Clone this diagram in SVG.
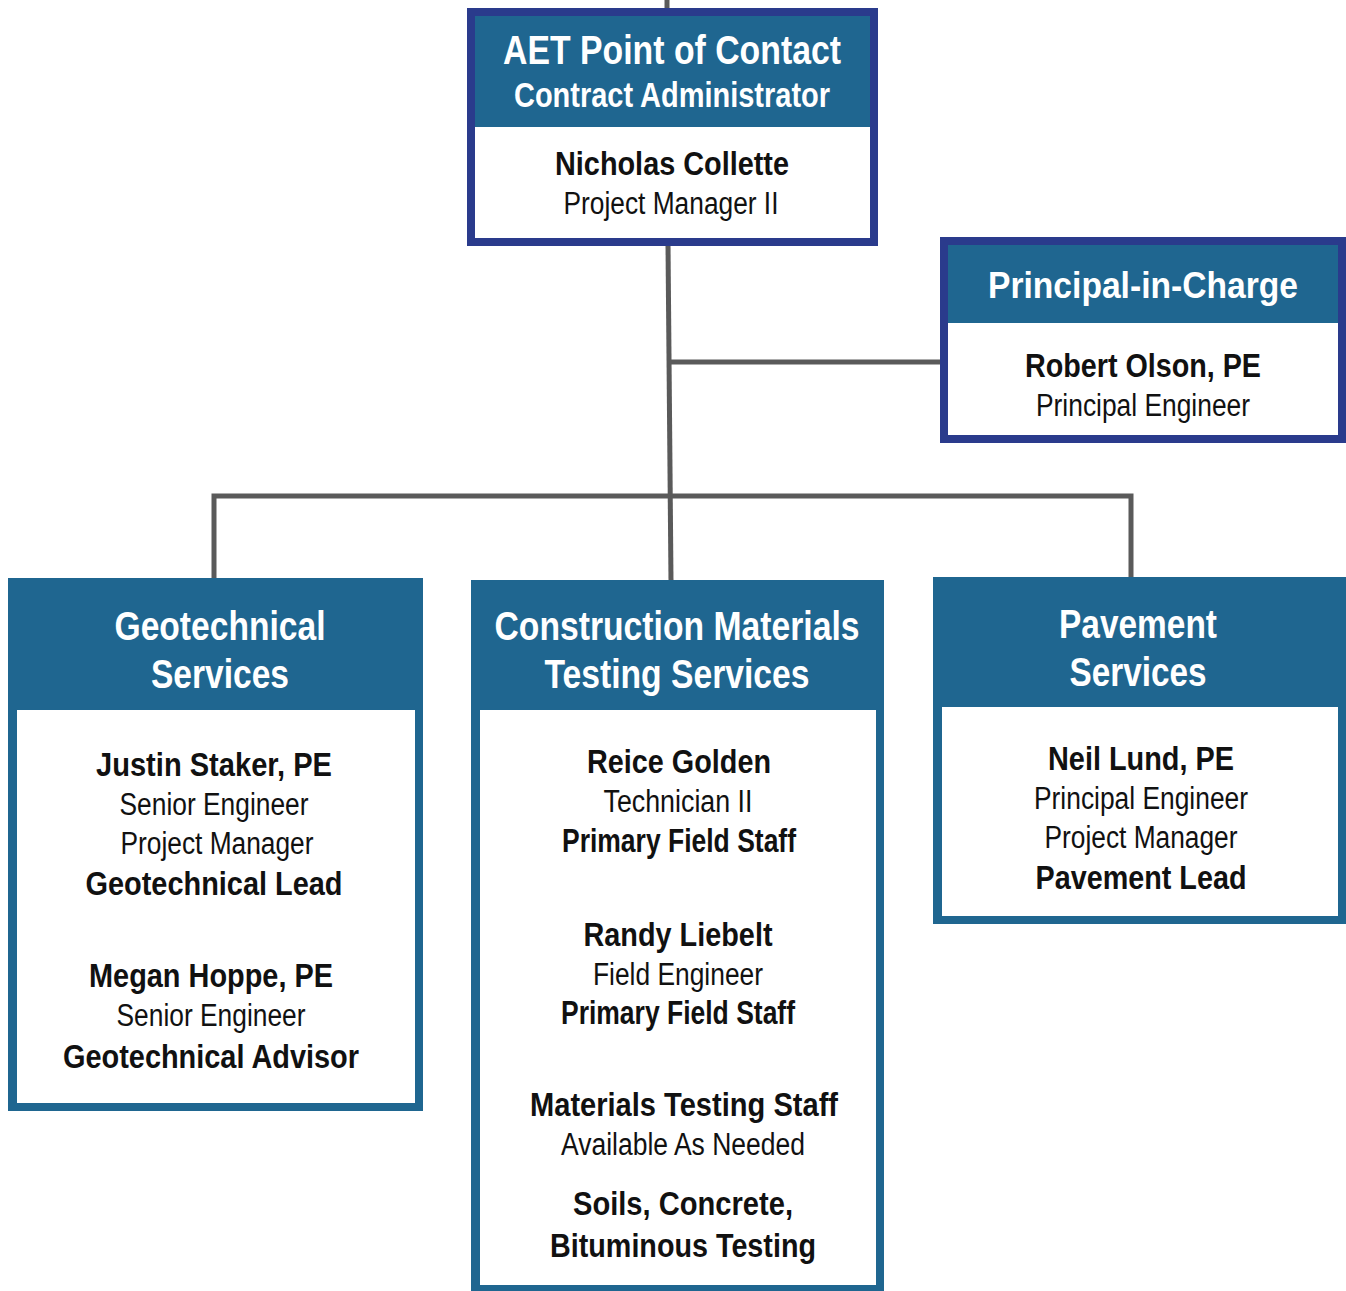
<svg xmlns="http://www.w3.org/2000/svg" width="1346" height="1291" viewBox="0 0 1346 1291">
<style>
.navy{fill:#2a3b8c}
.teal{fill:#1f6690}
.body{fill:#ffffff}
text{font-family:"Liberation Sans",Arial,sans-serif;text-anchor:middle}
.h{fill:#ffffff;font-weight:bold;font-size:40px}
.hp{fill:#ffffff;font-weight:bold;font-size:36px}
.h2{fill:#ffffff;font-weight:bold;font-size:35px}
.b{fill:#111111;font-weight:bold;font-size:33px}
.r{fill:#111111;font-size:31px}
.conn{stroke:#5a5a5a;stroke-width:5;fill:none}
</style>
<g id="connectors">
<line class="conn" x1="667" y1="0" x2="667" y2="10"/>
<line class="conn" x1="668" y1="244" x2="671" y2="582"/>
<line class="conn" x1="670" y1="362" x2="942" y2="362"/>
<polyline class="conn" points="214,580 214,496 1131,496 1131,579"/>
</g>
<g id="aet">
<rect class="navy" x="467" y="8" width="411" height="238"/>
<rect class="teal" x="475" y="16" width="395" height="111"/>
<rect class="body" x="475" y="127" width="395" height="111"/>
<text class="h" x="672" y="64" textLength="338" lengthAdjust="spacingAndGlyphs">AET Point of Contact</text>
<text class="h2" x="672" y="107" textLength="316" lengthAdjust="spacingAndGlyphs">Contract Administrator</text>
<text class="b" x="672" y="175" textLength="234" lengthAdjust="spacingAndGlyphs">Nicholas Collette</text>
<text class="r" x="671" y="214" textLength="215" lengthAdjust="spacingAndGlyphs">Project Manager II</text>
</g>
<g id="principal">
<rect class="navy" x="940" y="237" width="406" height="206"/>
<rect class="teal" x="948" y="245" width="390" height="78"/>
<rect class="body" x="948" y="323" width="390" height="112"/>
<text class="hp" x="1143" y="298" textLength="310" lengthAdjust="spacingAndGlyphs">Principal-in-Charge</text>
<text class="b" x="1143" y="377" textLength="236" lengthAdjust="spacingAndGlyphs">Robert Olson, PE</text>
<text class="r" x="1143" y="416" textLength="214" lengthAdjust="spacingAndGlyphs">Principal Engineer</text>
</g>
<g id="geotechnical">
<rect class="teal" x="8" y="578" width="415" height="533"/>
<rect class="body" x="17" y="710" width="398" height="393"/>
<text class="h" x="220" y="640" textLength="211" lengthAdjust="spacingAndGlyphs">Geotechnical</text>
<text class="h" x="220" y="688" textLength="138" lengthAdjust="spacingAndGlyphs">Services</text>
<text class="b" x="214" y="776" textLength="236" lengthAdjust="spacingAndGlyphs">Justin Staker, PE</text>
<text class="r" x="214" y="815" textLength="189" lengthAdjust="spacingAndGlyphs">Senior Engineer</text>
<text class="r" x="217" y="854" textLength="193" lengthAdjust="spacingAndGlyphs">Project Manager</text>
<text class="b" x="214" y="895" textLength="257" lengthAdjust="spacingAndGlyphs">Geotechnical Lead</text>
<text class="b" x="211" y="987" textLength="244" lengthAdjust="spacingAndGlyphs">Megan Hoppe, PE</text>
<text class="r" x="211" y="1026" textLength="189" lengthAdjust="spacingAndGlyphs">Senior Engineer</text>
<text class="b" x="211" y="1068" textLength="296" lengthAdjust="spacingAndGlyphs">Geotechnical Advisor</text>
</g>
<g id="cmt">
<rect class="teal" x="471" y="580" width="413" height="720"/>
<rect class="body" x="480" y="710" width="396" height="575"/>
<text class="h" x="677" y="640" textLength="365" lengthAdjust="spacingAndGlyphs">Construction Materials</text>
<text class="h" x="677" y="688" textLength="265" lengthAdjust="spacingAndGlyphs">Testing Services</text>
<text class="b" x="679" y="773" textLength="184" lengthAdjust="spacingAndGlyphs">Reice Golden</text>
<text class="r" x="678" y="812" textLength="149" lengthAdjust="spacingAndGlyphs">Technician II</text>
<text class="b" x="679" y="852" textLength="234" lengthAdjust="spacingAndGlyphs">Primary Field Staff</text>
<text class="b" x="678" y="946" textLength="189" lengthAdjust="spacingAndGlyphs">Randy Liebelt</text>
<text class="r" x="678" y="985" textLength="170" lengthAdjust="spacingAndGlyphs">Field Engineer</text>
<text class="b" x="678" y="1024" textLength="234" lengthAdjust="spacingAndGlyphs">Primary Field Staff</text>
<text class="b" x="684" y="1116" textLength="308" lengthAdjust="spacingAndGlyphs">Materials Testing Staff</text>
<text class="r" x="683" y="1155" textLength="244" lengthAdjust="spacingAndGlyphs">Available As Needed</text>
<text class="b" x="683" y="1215" textLength="220" lengthAdjust="spacingAndGlyphs">Soils, Concrete,</text>
<text class="b" x="683" y="1257" textLength="266" lengthAdjust="spacingAndGlyphs">Bituminous Testing</text>
</g>
<g id="pavement">
<rect class="teal" x="933" y="577" width="413" height="347"/>
<rect class="body" x="942" y="707" width="396" height="209"/>
<text class="h" x="1138" y="638" textLength="158" lengthAdjust="spacingAndGlyphs">Pavement</text>
<text class="h" x="1138" y="686" textLength="137" lengthAdjust="spacingAndGlyphs">Services</text>
<text class="b" x="1141" y="770" textLength="186" lengthAdjust="spacingAndGlyphs">Neil Lund, PE</text>
<text class="r" x="1141" y="809" textLength="214" lengthAdjust="spacingAndGlyphs">Principal Engineer</text>
<text class="r" x="1141" y="848" textLength="193" lengthAdjust="spacingAndGlyphs">Project Manager</text>
<text class="b" x="1141" y="889" textLength="211" lengthAdjust="spacingAndGlyphs">Pavement Lead</text>
</g>
</svg>
